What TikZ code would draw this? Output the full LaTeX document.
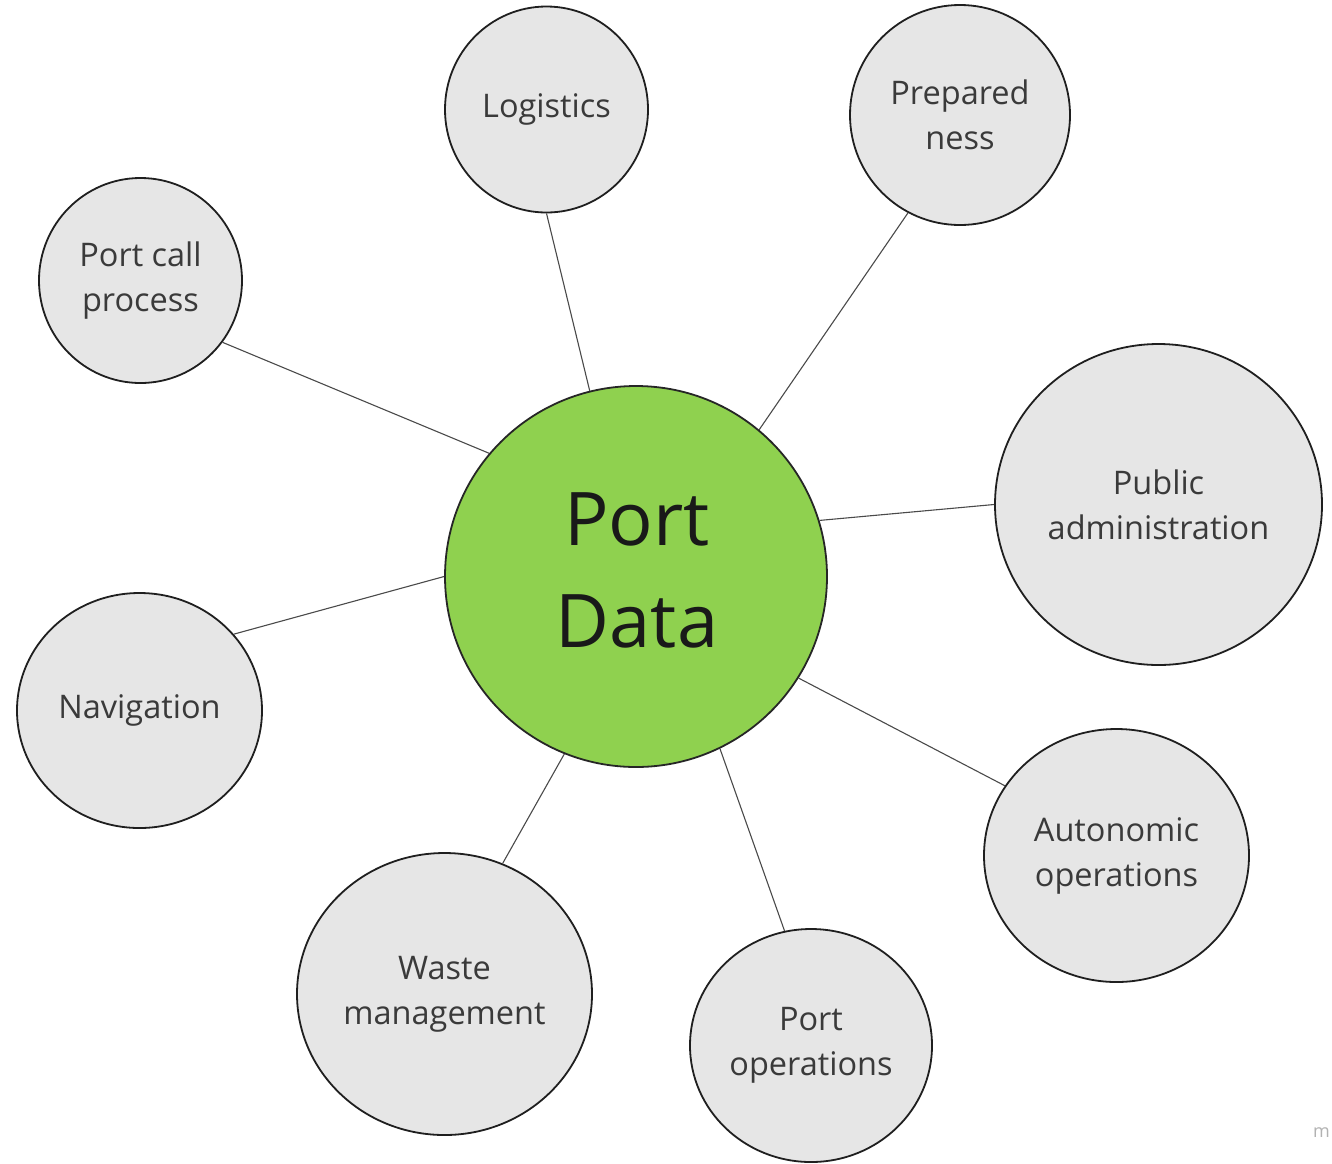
\documentclass[tikz,border=0pt]{standalone}
\usepackage{fontspec}
\setmainfont{Open Sans}
\usetikzlibrary{shapes.geometric}
\definecolor{bubblefill}{HTML}{E6E6E6}
\definecolor{bubbletext}{HTML}{3A3A3A}
\definecolor{hubgreen}{HTML}{8FD14F}
\definecolor{edgegray}{HTML}{4A4A4A}
\tikzset{
  bubble/.style={ellipse, draw=black!88, line width=1.8pt, fill=bubblefill,
    inner sep=0pt, align=center, text=bubbletext,
    font=\fontsize{32.5}{45}\selectfont},
  hub/.style={ellipse, draw=black!85, line width=1.8pt, fill=hubgreen,
    inner sep=0pt, align=center, text=black!90,
    font=\fontsize{74}{102}\selectfont},
  link/.style={draw=edgegray, line width=1.1pt}
}
\begin{document}
\begin{tikzpicture}[x=1pt,y=-1pt]
\useasboundingbox (0,0) rectangle (1332,1163);
\fill[white] (0,0) rectangle (1332,1163);

\node[hub, minimum width=382pt, minimum height=381pt] (pd) at (636,576.5) {};
\node[text=black!90, font=\fontsize{74}{102}\selectfont, align=center, inner sep=0pt] (pdtext) at (637,570) {Port\\Data};

\node[bubble, minimum width=203pt, minimum height=206pt] (log) at (546.5,109.5) {Logistics};
\node[bubble, minimum width=220pt, minimum height=220pt] (prep) at (960,115) {Prepared\\ness};
\node[bubble, minimum width=203pt, minimum height=205pt] (pcp) at (140.5,280.5) {Port call\\process};
\node[bubble, minimum width=327pt, minimum height=321pt] (pub) at (1158.5,504.5) {Public\\administration};
\node[bubble, minimum width=245pt, minimum height=235pt] (nav) at (139.5,710.5) {Navigation};
\node[bubble, minimum width=265pt, minimum height=253pt] (aut) at (1116.5,855.5) {Autonomic\\operations};
\node[bubble, minimum width=295pt, minimum height=282pt] (waste) at (444.5,994) {Waste\\management};
\node[bubble, minimum width=242pt, minimum height=233pt] (pops) at (811,1045.5) {Port\\operations};

\node[text=black!30, font=\fontsize{18}{20}\selectfont, inner sep=0pt] (mark) at (1321.5,1133) {m};

\path[link] (pd.140.2) -- (pcp.-37.4);
\path[link] (pd.104.9) -- (log.270);
\path[link] (pd.50.8) -- (prep.242.1);
\path[link] (pd.17.6) -- (pub.180);
\path[link] (pd.180.2) -- (nav.39.3);
\path[link] (pd.-32.3) -- (aut.148.7);
\path[link] (pd.248.6) -- (waste.66.1);
\path[link] (pd.-64.4) -- (pops.103.3);
\end{tikzpicture}
\end{document}
